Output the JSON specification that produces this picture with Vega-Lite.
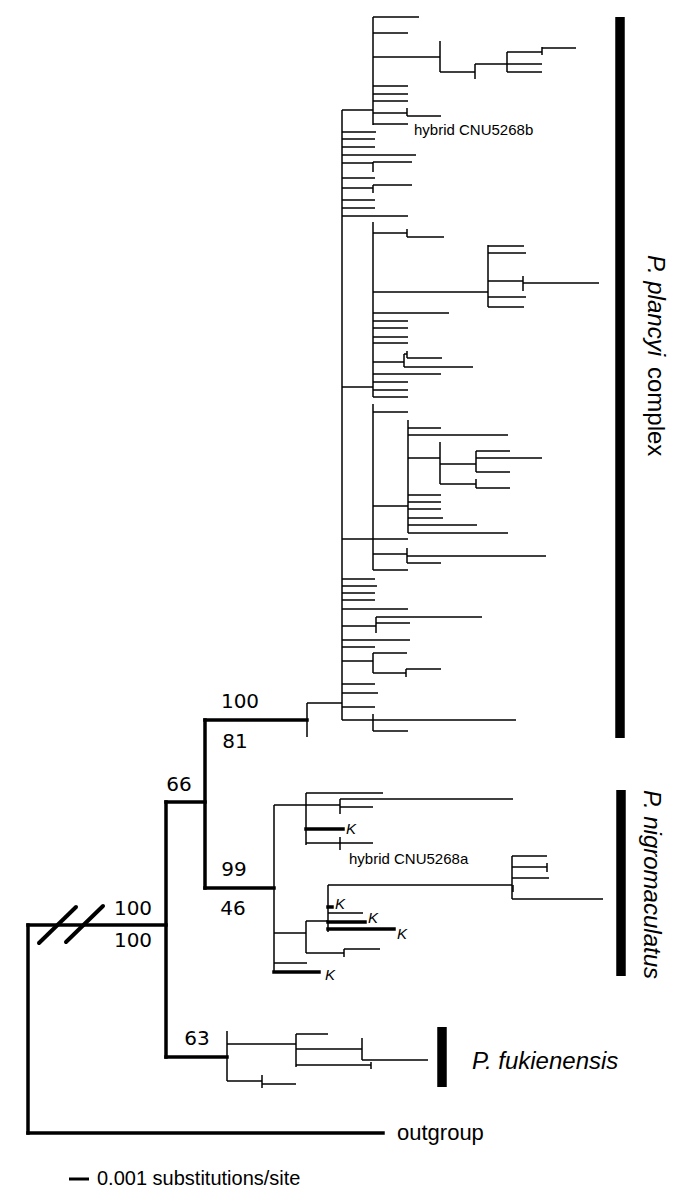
{
"$schema": "https://vega.github.io/schema/vega-lite/v6.json",
"width": 685, "height": 1202, "autosize": "none", "padding": 0,
"background": "white",
"config": {"view": {"stroke": null}},
"datasets": {
"thinH": [
{"x":307,"x2":342,"y":703},{"x":342,"x2":373,"y":110},{"x":373,"x2":419,"y":17},{"x":373,"x2":408,"y":33},{"x":373,"x2":440,"y":57},{"x":440,"x2":475,"y":72},{"x":475,"x2":507,"y":64},{"x":507,"x2":542,"y":52},{"x":542,"x2":576,"y":48},{"x":507,"x2":542,"y":64},{"x":507,"x2":542,"y":72},{"x":373,"x2":408,"y":86},{"x":373,"x2":408,"y":94},{"x":373,"x2":408,"y":101},{"x":373,"x2":407,"y":113},{"x":407,"x2":441,"y":116},{"x":373,"x2":408,"y":124},
{"x":342,"x2":376,"y":132},{"x":342,"x2":375,"y":139},{"x":342,"x2":375,"y":147},{"x":342,"x2":416,"y":155},{"x":342,"x2":373,"y":163},{"x":373,"x2":412,"y":162},{"x":342,"x2":375,"y":178},{"x":342,"x2":373,"y":188},{"x":373,"x2":412,"y":185},{"x":342,"x2":375,"y":200},{"x":342,"x2":375,"y":208},{"x":342,"x2":408,"y":216},
{"x":342,"x2":373,"y":387},{"x":373,"x2":407,"y":233},{"x":407,"x2":444,"y":237},{"x":373,"x2":488,"y":292},{"x":488,"x2":524,"y":246},{"x":488,"x2":526,"y":253},{"x":488,"x2":523,"y":281},{"x":523,"x2":599,"y":283},{"x":488,"x2":526,"y":297},{"x":488,"x2":524,"y":307},{"x":373,"x2":449,"y":313},{"x":373,"x2":408,"y":321},{"x":373,"x2":408,"y":328},{"x":373,"x2":408,"y":337},{"x":373,"x2":408,"y":343},{"x":373,"x2":404,"y":362},{"x":404,"x2":407,"y":354},{"x":407,"x2":442,"y":358},{"x":404,"x2":473,"y":367},{"x":373,"x2":441,"y":374},{"x":373,"x2":408,"y":382},{"x":373,"x2":408,"y":390},{"x":373,"x2":408,"y":397},
{"x":342,"x2":408,"y":539},{"x":373,"x2":408,"y":412},{"x":373,"x2":408,"y":506},{"x":408,"x2":441,"y":428},{"x":408,"x2":508,"y":435},{"x":408,"x2":440,"y":458},{"x":440,"x2":476,"y":464},{"x":476,"x2":510,"y":451},{"x":476,"x2":542,"y":458},{"x":476,"x2":510,"y":472},{"x":440,"x2":476,"y":484},{"x":476,"x2":510,"y":488},{"x":408,"x2":441,"y":495},{"x":408,"x2":441,"y":502},{"x":408,"x2":441,"y":509},{"x":408,"x2":443,"y":518},{"x":408,"x2":477,"y":525},{"x":408,"x2":508,"y":533},{"x":373,"x2":407,"y":554},{"x":407,"x2":546,"y":556},{"x":407,"x2":441,"y":563},{"x":373,"x2":408,"y":570},
{"x":342,"x2":375,"y":579},{"x":342,"x2":377,"y":586},{"x":342,"x2":375,"y":593},{"x":342,"x2":375,"y":600},{"x":342,"x2":408,"y":609},{"x":342,"x2":376,"y":626},{"x":376,"x2":482,"y":617},{"x":376,"x2":410,"y":623},{"x":342,"x2":410,"y":640},{"x":342,"x2":375,"y":647},{"x":342,"x2":373,"y":661},{"x":373,"x2":407,"y":653},{"x":373,"x2":406,"y":673},{"x":406,"x2":441,"y":669},{"x":342,"x2":375,"y":684},{"x":342,"x2":378,"y":693},{"x":342,"x2":375,"y":707},{"x":342,"x2":516,"y":720},{"x":373,"x2":408,"y":731},
{"x":274,"x2":306,"y":805},{"x":306,"x2":383,"y":793},{"x":306,"x2":340,"y":805},{"x":340,"x2":513,"y":799},{"x":340,"x2":373,"y":807},{"x":306,"x2":340,"y":843},{"x":340,"x2":373,"y":843},{"x":274,"x2":306,"y":933},{"x":306,"x2":328,"y":921},{"x":328,"x2":512,"y":885},{"x":512,"x2":547,"y":856},{"x":512,"x2":547,"y":867},{"x":512,"x2":549,"y":878},{"x":512,"x2":603,"y":899},{"x":328,"x2":363,"y":913},{"x":306,"x2":344,"y":953},{"x":344,"x2":380,"y":949},{"x":274,"x2":307,"y":963},
{"x":227,"x2":296,"y":1044},{"x":296,"x2":328,"y":1034},{"x":296,"x2":362,"y":1049},{"x":362,"x2":428,"y":1060},{"x":296,"x2":371,"y":1065},{"x":227,"x2":262,"y":1081},{"x":262,"x2":296,"y":1084}
],
"thinV": [
{"x":307,"y":703,"y2":737},{"x":342,"y":110,"y2":720},{"x":373,"y":17,"y2":125},{"x":440,"y":41,"y2":72},{"x":475,"y":64,"y2":79},{"x":507,"y":52,"y2":72},{"x":542,"y":47,"y2":55},{"x":407,"y":108,"y2":116},{"x":373,"y":162,"y2":172},{"x":373,"y":185,"y2":193},{"x":373,"y":222,"y2":397},{"x":407,"y":229,"y2":237},{"x":488,"y":245,"y2":307},{"x":523,"y":276,"y2":291},{"x":404,"y":354,"y2":367},{"x":407,"y":351,"y2":358},{"x":373,"y":404,"y2":570},{"x":408,"y":420,"y2":533},{"x":440,"y":442,"y2":484},{"x":476,"y":451,"y2":472},{"x":476,"y":479,"y2":488},{"x":407,"y":548,"y2":563},{"x":376,"y":617,"y2":633},{"x":373,"y":653,"y2":673},{"x":406,"y":669,"y2":677},{"x":373,"y":714,"y2":731},
{"x":274,"y":805,"y2":973},{"x":306,"y":793,"y2":845},{"x":340,"y":799,"y2":814},{"x":340,"y":837,"y2":850},{"x":306,"y":921,"y2":953},{"x":328,"y":885,"y2":932},{"x":512,"y":856,"y2":899},{"x":547,"y":863,"y2":872},{"x":513,"y":885,"y2":892},{"x":344,"y":949,"y2":957},
{"x":227,"y":1031,"y2":1081},{"x":296,"y":1034,"y2":1067},{"x":362,"y":1038,"y2":1060},{"x":371,"y":1062,"y2":1069},{"x":262,"y":1075,"y2":1088}
],
"thickH": [
{"x":205,"x2":307,"y":720},{"x":166,"x2":205,"y":802},{"x":205,"x2":274,"y":888},{"x":28,"x2":166,"y":925},{"x":28,"x2":383,"y":1133},{"x":166,"x2":227,"y":1057},
{"x":306,"x2":343,"y":829},{"x":328,"x2":332,"y":907},{"x":328,"x2":365,"y":922},{"x":328,"x2":394,"y":929},{"x":274,"x2":319,"y":972}
],
"thickV": [
{"x":205,"y":720,"y2":888},{"x":166,"y":802,"y2":1057},{"x":28,"y":925,"y2":1133}
],
"slash": [{"x":39,"y":943,"x2":76,"y2":907},{"x":66,"y":942,"x2":103,"y2":906}],
"bars": [{"x":620,"y":17,"y2":738},{"x":621,"y":790,"y2":976},{"x":442,"y":1027,"y2":1087}],
"scalebar": [{"x":69,"x2":89,"y":1179}],
"support": [
{"x":240,"y":702,"label":"100"},{"x":235,"y":742,"label":"81"},{"x":179,"y":785,"label":"66"},{"x":234,"y":870,"label":"99"},{"x":233,"y":909,"label":"46"},{"x":133,"y":909,"label":"100"},{"x":133,"y":941,"label":"100"},{"x":197,"y":1039,"label":"63"}
],
"labels": [
{"x":414,"y":130,"label":"hybrid CNU5268b","kind":"hybrid"},
{"x":349,"y":859,"label":"hybrid CNU5268a","kind":"hybrid"},
{"x":346,"y":829,"label":"K","kind":"kappa"},
{"x":335,"y":904,"label":"K","kind":"kappa"},
{"x":368,"y":918,"label":"K","kind":"kappa"},
{"x":397,"y":934,"label":"K","kind":"kappa"},
{"x":325,"y":975,"label":"K","kind":"kappa"},
{"x":397,"y":1133,"label":"outgroup","kind":"big"},
{"x":97,"y":1179,"label":"0.001 substitutions/site","kind":"scale"},
{"x":472,"y":1062,"label":"P. fukienensis","kind":"clade"},
{"x":655,"y":255,"label":"P. plancyi","kind":"rotItalic"},
{"x":655,"y":367,"label":"complex","kind":"rotUpright"},
{"x":651,"y":790,"label":"P. nigromaculatus","kind":"rotItalic"}
]
},
"layer": [
{"data":{"name":"thinH"},"mark":{"type":"rule","strokeWidth":1.5,"color":"black"},
 "encoding":{"x":{"field":"x","type":"quantitative","scale":{"domain":[0,685],"nice":false,"zero":false},"axis":null},"x2":{"field":"x2"},
 "y":{"field":"y","type":"quantitative","scale":{"domain":[0,1202],"reverse":true,"nice":false,"zero":false},"axis":null}}},
{"data":{"name":"thinV"},"mark":{"type":"rule","strokeWidth":1.5,"color":"black"},
 "encoding":{"x":{"field":"x","type":"quantitative","axis":null},
 "y":{"field":"y","type":"quantitative","axis":null},"y2":{"field":"y2"}}},
{"data":{"name":"thickH"},"mark":{"type":"rule","strokeWidth":3.5,"color":"black","strokeCap":"square"},
 "encoding":{"x":{"field":"x","type":"quantitative","axis":null},"x2":{"field":"x2"},
 "y":{"field":"y","type":"quantitative","axis":null}}},
{"data":{"name":"thickV"},"mark":{"type":"rule","strokeWidth":3.5,"color":"black","strokeCap":"square"},
 "encoding":{"x":{"field":"x","type":"quantitative","axis":null},
 "y":{"field":"y","type":"quantitative","axis":null},"y2":{"field":"y2"}}},
{"data":{"name":"slash"},"mark":{"type":"rule","strokeWidth":4,"color":"black","strokeCap":"round"},
 "encoding":{"x":{"field":"x","type":"quantitative","axis":null},"x2":{"field":"x2"},
 "y":{"field":"y","type":"quantitative","axis":null},"y2":{"field":"y2"}}},
{"data":{"name":"bars"},"mark":{"type":"rule","strokeWidth":9.5,"color":"black"},
 "encoding":{"x":{"field":"x","type":"quantitative","axis":null},
 "y":{"field":"y","type":"quantitative","axis":null},"y2":{"field":"y2"}}},
{"data":{"name":"scalebar"},"mark":{"type":"rule","strokeWidth":3,"color":"black"},
 "encoding":{"x":{"field":"x","type":"quantitative","axis":null},"x2":{"field":"x2"},
 "y":{"field":"y","type":"quantitative","axis":null}}},
{"data":{"name":"support"},"mark":{"type":"text","font":"DejaVu Sans","fontSize":20,"align":"center","baseline":"middle","color":"black"},
 "encoding":{"x":{"field":"x","type":"quantitative","axis":null},"y":{"field":"y","type":"quantitative","axis":null},"text":{"field":"label"}}},
{"data":{"name":"labels"},"transform":[{"filter":"datum.kind === 'hybrid'"}],
 "mark":{"type":"text","font":"Liberation Sans","fontSize":15,"align":"left","baseline":"middle","color":"black"},
 "encoding":{"x":{"field":"x","type":"quantitative","axis":null},"y":{"field":"y","type":"quantitative","axis":null},"text":{"field":"label"}}},
{"data":{"name":"labels"},"transform":[{"filter":"datum.kind === 'kappa'"}],
 "mark":{"type":"text","font":"Liberation Sans","fontSize":15,"fontStyle":"italic","align":"left","baseline":"middle","color":"black"},
 "encoding":{"x":{"field":"x","type":"quantitative","axis":null},"y":{"field":"y","type":"quantitative","axis":null},"text":{"field":"label"}}},
{"data":{"name":"labels"},"transform":[{"filter":"datum.kind === 'big'"}],
 "mark":{"type":"text","font":"Liberation Sans","fontSize":22,"align":"left","baseline":"middle","color":"black"},
 "encoding":{"x":{"field":"x","type":"quantitative","axis":null},"y":{"field":"y","type":"quantitative","axis":null},"text":{"field":"label"}}},
{"data":{"name":"labels"},"transform":[{"filter":"datum.kind === 'scale'"}],
 "mark":{"type":"text","font":"Liberation Sans","fontSize":20,"align":"left","baseline":"middle","color":"black"},
 "encoding":{"x":{"field":"x","type":"quantitative","axis":null},"y":{"field":"y","type":"quantitative","axis":null},"text":{"field":"label"}}},
{"data":{"name":"labels"},"transform":[{"filter":"datum.kind === 'clade'"}],
 "mark":{"type":"text","font":"Liberation Sans","fontSize":24,"fontStyle":"italic","align":"left","baseline":"middle","color":"black"},
 "encoding":{"x":{"field":"x","type":"quantitative","axis":null},"y":{"field":"y","type":"quantitative","axis":null},"text":{"field":"label"}}},
{"data":{"name":"labels"},"transform":[{"filter":"datum.kind === 'rotItalic'"}],
 "mark":{"type":"text","font":"Liberation Sans","fontSize":24,"fontStyle":"italic","angle":90,"align":"left","baseline":"middle","color":"black"},
 "encoding":{"x":{"field":"x","type":"quantitative","axis":null},"y":{"field":"y","type":"quantitative","axis":null},"text":{"field":"label"}}},
{"data":{"name":"labels"},"transform":[{"filter":"datum.kind === 'rotUpright'"}],
 "mark":{"type":"text","font":"Liberation Sans","fontSize":24,"angle":90,"align":"left","baseline":"middle","color":"black"},
 "encoding":{"x":{"field":"x","type":"quantitative","axis":null},"y":{"field":"y","type":"quantitative","axis":null},"text":{"field":"label"}}}
]
}
